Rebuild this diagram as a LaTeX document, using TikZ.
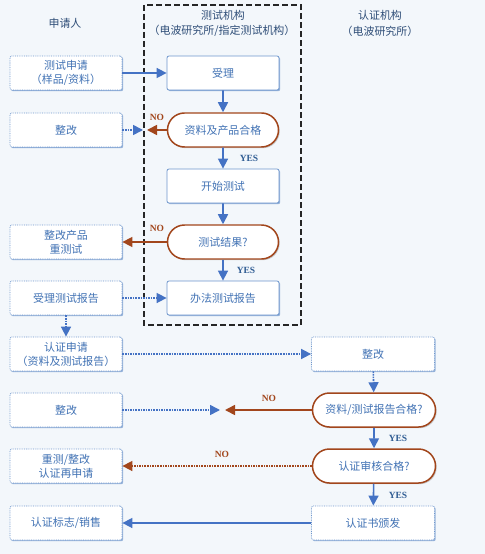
\documentclass[tikz,border=0pt]{standalone}
\usepackage{fontspec}
\setmainfont{Liberation Serif}
\newfontfamily\cjk{Noto Sans CJK SC}
\usetikzlibrary{arrows.meta,shapes.misc,shadows}

\definecolor{bgblue}{HTML}{F3F7FB}
\definecolor{txtblue}{HTML}{4172B4}
\definecolor{headblue}{HTML}{2F4E78}
\definecolor{arrblue}{HTML}{4472C4}
\definecolor{edgeblue}{HTML}{6E96CC}
\definecolor{nobrown}{HTML}{A2461C}
\definecolor{yesblue}{HTML}{2F5C93}

\tikzset{
  every node/.style={font=\cjk\fontsize{11}{14}\selectfont, text=txtblue, align=center},
  boxshadow/.style={drop shadow={shadow xshift=1.2pt, shadow yshift=-1.2pt, fill=edgeblue, opacity=0.7}},
  sidebox/.style={draw=edgeblue, densely dotted, thick, fill=white, rounded corners=2bp,
    minimum height=34bp, inner sep=1bp, boxshadow},
  applybox/.style={sidebox, minimum width=112bp},
  certbox/.style={sidebox, minimum width=123bp},
  testbox/.style={draw=edgeblue, thick, fill=white, rounded corners=2bp,
    minimum width=112bp, minimum height=34bp, inner sep=1bp, boxshadow},
  checkbox/.style={rounded rectangle, draw=nobrown, line width=1.5pt, fill=white,
    minimum height=34bp, inner sep=1bp,
    drop shadow={shadow xshift=1.2pt, shadow yshift=-1.2pt, fill=gray!60, opacity=0.7}},
  headtext/.style={text=headblue},
  nolabel/.style={font=\rmfamily\bfseries\fontsize{9.5}{10}\selectfont, text=nobrown},
  yeslabel/.style={font=\rmfamily\bfseries\fontsize{9.5}{10}\selectfont, text=yesblue},
  flow/.style={-{Triangle[length=10bp,width=10bp]}, draw=arrblue, line width=1.6pt},
  noflow/.style={-{Triangle[length=10bp,width=10bp]}, draw=nobrown, line width=1.6pt}
}

\begin{document}
\begin{tikzpicture}[x=1bp,y=-1bp]
    % background and frame of the test lab
    \fill[bgblue] (0,0) rectangle (485,554);
    \draw[dash pattern=on 6bp off 3bp, line width=1.2pt, gray!30!black] (144,5) rectangle (301,325);

    % Headers
    \node[headtext] (hApply) at (65,23) {申请人};
    \node[headtext] (hTest) at (223,15) {测试机构};
    \node[headtext] (hTestSub) at (222,31) {（电波研究所/指定测试机构）};
    \node[headtext] (hCert) at (380,15) {认证机构};
    \node[headtext] (hCertSub) at (380,31) {（电波研究所）};

    % Row 1 (test application)
    \node[applybox] (apply) at (66,73) {测试申请\\（样品/资料）};
    \node[testbox] (accept) at (223,73) {受理};

    % Row 2 (documents and product check)
    \node[applybox] (fixA) at (66,130) {整改};
    \node[checkbox, minimum width=113bp] (checkA) at (223,130) {资料及产品合格};
    \coordinate (meetAl) at (143,130);
    \coordinate (meetAr) at (147,130);
    \node[nolabel] (noA) at (157,117) {NO};

    % Row 3 (start of the test)
    \node[testbox] (start) at (223,186) {开始测试};
    \node[yeslabel] (yesA) at (249,158) {YES};

    % Row 4 (test result)
    \node[applybox] (retest) at (66,242) {整改产品\\重测试};
    \node[checkbox, minimum width=113bp] (checkB) at (223,242) {测试结果?};
    \node[nolabel] (noB) at (157,228) {NO};
    \node[yeslabel] (yesB) at (246,270) {YES};

    % Row 5 (test report)
    \node[applybox] (takeRep) at (66,298) {受理测试报告};
    \node[testbox] (report) at (223,298) {办法测试报告};

    % Row 6 (certification application)
    \node[applybox] (certApply) at (66,354) {认证申请\\（资料及测试报告）};
    \node[certbox] (fixB) at (373,354) {整改};

    % Row 7 (documents and report check)
    \node[applybox] (fixC) at (66,410) {整改};
    \node[checkbox, minimum width=125bp] (checkC) at (374,410) {资料/测试报告合格?};
    \coordinate (meetCl) at (220,410);
    \coordinate (meetCr) at (225,410);
    \node[nolabel] (noC) at (269,398) {NO};
    \node[yeslabel] (yesC) at (398,438) {YES};

    % Row 8 (certification review)
    \node[applybox] (reapply) at (66,466) {重测/整改\\认证再申请};
    \node[checkbox, minimum width=125bp] (checkD) at (374,466) {认证审核合格?};
    \node[nolabel] (noD) at (222,454) {NO};
    \node[yeslabel] (yesD) at (398,495) {YES};

    % Row 9 (certificate issued)
    \node[applybox] (mark) at (66,523) {认证标志/销售};
    \node[certbox] (issue) at (373,523) {认证书颁发};

    % Connectors
    \draw[flow] (apply) -- (accept);
    \draw[flow] (accept) -- (checkA);
    \draw[flow, densely dotted] (fixA) -- (meetAl);
    \draw[noflow] (checkA) -- (meetAr);
    \draw[flow] (checkA) -- (start);
    \draw[flow] (start) -- (checkB);
    \draw[noflow] (checkB) -- (retest);
    \draw[flow] (checkB) -- (report);
    \draw[flow, densely dotted] (takeRep) -- (report);
    \draw[flow, densely dotted] (takeRep) -- (certApply);
    \draw[flow, densely dotted] (certApply) -- (fixB);
    \draw[flow, densely dotted] (fixB) -- (checkC);
    \draw[flow, densely dotted] (fixC) -- (meetCl);
    \draw[noflow] (checkC) -- (meetCr);
    \draw[flow] (checkC) -- (checkD);
    \draw[noflow, densely dotted] (checkD) -- (reapply);
    \draw[flow] (checkD) -- (issue);
    \draw[flow] (issue) -- (mark);

\end{tikzpicture}
\end{document}
